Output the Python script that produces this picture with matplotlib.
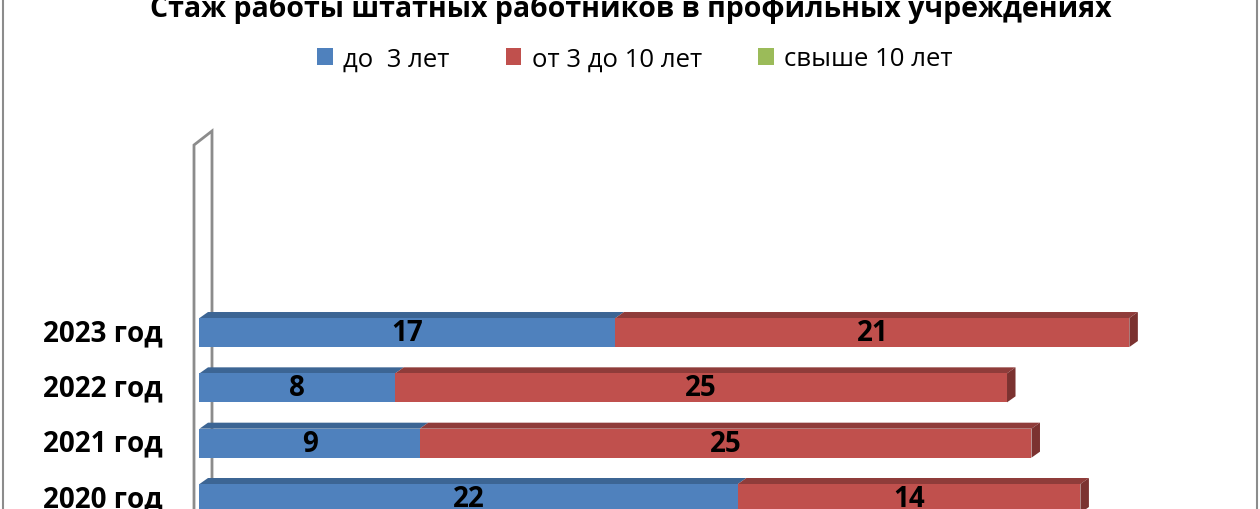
import matplotlib
matplotlib.use('Agg')
import matplotlib.pyplot as plt
from matplotlib.patches import Polygon, Patch
from matplotlib.lines import Line2D

title = 'Стаж работы штатных работников в профильных учреждениях'
years = ['2020 год', '2021 год', '2022 год', '2023 год']
series_names = ['до  3 лет', 'от 3 до 10 лет', 'свыше 10 лет']
under_3 = [22, 9, 8, 17]
from_3_to_10 = [14, 25, 25, 21]
over_10 = [0, 0, 0, 0]

front_colors = ['#4F81BD', '#C0504D', '#9BBB59']
top_colors = ['#3C6594', '#8F3C3A', '#789245']
side_colors = ['#335680', '#7B3230', '#6A8239']

# pixel layout of the plot (figure is 1260x510)
W, H = 1260, 510
X0 = 199.5          # pixel where value 0 sits
PX_PER_UNIT = 24.47
STEP = 55.33        # pixels between bar centres
Y_OFF = 10.5        # pixel (from bottom) of first bar centre
BAR_PX = 29
DEPTH = (8.5, 6.0)  # 3d depth in px

plt.rcParams['font.family'] = ['Open Sans', 'DejaVu Sans']
fig = plt.figure(figsize=(12.6, 5.1), dpi=100)
ax = fig.add_axes([0, 0, 1, 1])
ax.set_xlim(-X0 / PX_PER_UNIT, (W - X0) / PX_PER_UNIT)
ax.set_ylim(-Y_OFF / STEP, (H - Y_OFF) / STEP)
ax.axis('off')

dx = DEPTH[0] / PX_PER_UNIT
dy = DEPTH[1] / STEP
h = BAR_PX / STEP

# back wall of the category axis
wx0 = -5.5 / PX_PER_UNIT
wx1 = 12.5 / PX_PER_UNIT
wy0 = (H - 146 - Y_OFF) / STEP
wy1 = (H - 132 - Y_OFF) / STEP
ybot = ax.get_ylim()[0]
ax.plot([wx0, wx0, wx1, wx1], [ybot, wy0, wy1, ybot], color='#8C8C8C', lw=2,
        zorder=1, solid_joinstyle='miter')

series = [under_3, from_3_to_10, over_10]
ys = list(range(len(years)))
lefts = [0] * len(years)
for k, vals in enumerate(series):
    for i, v in enumerate(vals):
        if v == 0:
            continue
        l = lefts[i]
        yt = ys[i] + h / 2
        ax.add_patch(Polygon([(l, yt), (l + v, yt), (l + v + dx, yt + dy), (l + dx, yt + dy)],
                             closed=True, facecolor=top_colors[k], edgecolor='none', zorder=2))
    ax.barh(ys, vals, left=lefts, height=h, color=front_colors[k], edgecolor='none', zorder=3)
    for i, v in enumerate(vals):
        if v == 0:
            continue
        ax.text(lefts[i] + v / 2, ys[i], str(v), ha='center', va='center',
                fontsize=20, fontweight='bold', color='black', zorder=5)
    lefts = [a + b for a, b in zip(lefts, vals)]

# side face at the end of each stack
for i, tot in enumerate(lefts):
    k = max(j for j in range(len(series)) if series[j][i] > 0)
    yt, yb = ys[i] + h / 2, ys[i] - h / 2
    ax.add_patch(Polygon([(tot, yt), (tot + dx, yt + dy), (tot + dx, yb + dy), (tot, yb)],
                         closed=True, facecolor=side_colors[k], edgecolor='none', zorder=4))

for i, name in enumerate(years):
    ax.text((163 - X0) / PX_PER_UNIT, ys[i], name, ha='right', va='center',
            fontsize=20, fontweight='bold', color='black')

fig.text(0.501, 1 - 17 / H, title, ha='center', va='baseline', fontsize=20.5, fontweight='bold')

handles = [Patch(facecolor=c, edgecolor='none') for c in front_colors]
fig.legend(handles, series_names, loc='center', bbox_to_anchor=(0.504, 1 - 60 / H), ncol=3,
           frameon=False, fontsize=18.5, handlelength=0.6, handleheight=0.6,
           handletextpad=0.4, columnspacing=2.2)

# chart border (top and bottom fall outside the crop)
for xp in (2.5, 1256.5):
    fig.add_artist(Line2D([xp / W, xp / W], [0, 1], color='#8C8C8C', lw=1.5))

fig.savefig('out.png', dpi=100)
